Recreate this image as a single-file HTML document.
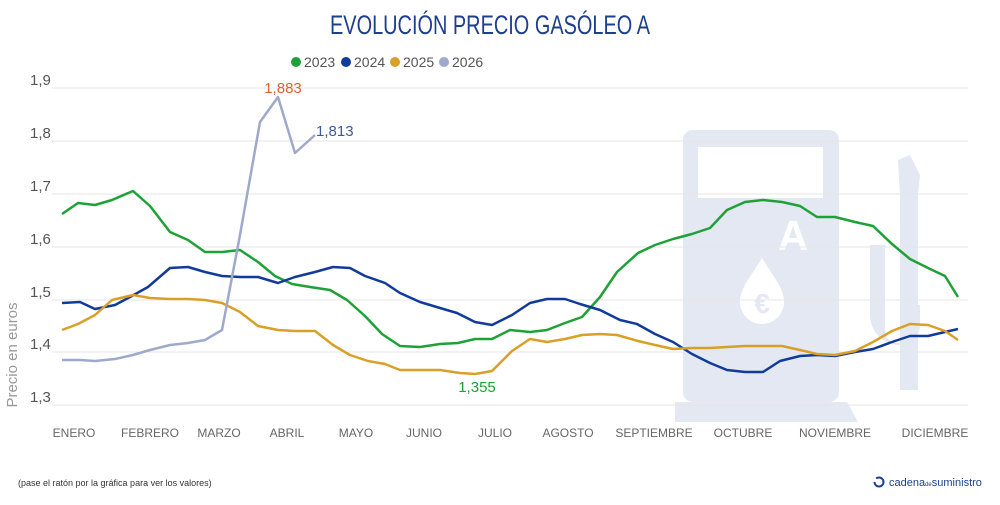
<!DOCTYPE html>
<html><head><meta charset="utf-8"><style>
body{margin:0;background:#fff;width:1000px;height:500px;overflow:hidden;font-family:"Liberation Sans",sans-serif}
</style></head><body>
<svg width="1000" height="500" viewBox="0 0 1000 500" xmlns="http://www.w3.org/2000/svg">
<!-- watermark -->
<g fill="#e3e8f3">
<rect x="683" y="130" width="156" height="272" rx="10"/>
<polygon points="675,402 847,402 858,422 675,422"/>
<rect x="900" y="190" width="18" height="200"/>
<polygon points="898,160 910,155 920,175 918,195 900,195"/>
<path d="M850,245 h20 v70 a30,30 0 0 0 30,30 h0 a20,20 0 0 0 20,-20 v-20 h-5 v20 a18,18 0 0 1 -18,18 a12,12 0 0 1 -12,-12 v-86 z" />
</g>
<rect x="698" y="147" width="125" height="51" fill="#fff"/>
<rect x="720" y="160" width="3" height="0" fill="#fff"/>
<text x="793" y="250" font-size="42" font-weight="bold" fill="#fff" text-anchor="middle" font-family="Liberation Sans">A</text>
<path d="M762,258 C750,278 740,288 740,302 a22,22 0 0 0 44,0 C784,288 774,278 762,258 z" fill="#fff"/>
<text x="762" y="313" font-size="28" font-weight="bold" fill="#e3e8f3" text-anchor="middle">€</text>
<!-- title -->
<text x="490" y="34" font-size="27" fill="#1d3f8f" text-anchor="middle" font-family="Liberation Sans Narrow, Liberation Sans" textLength="320" lengthAdjust="spacingAndGlyphs">EVOLUCIÓN PRECIO GASÓLEO A</text>
<!-- legend -->
<g font-size="14" fill="#555">
<circle cx="296" cy="62" r="5" fill="#1ea136"/><text x="304" y="67">2023</text>
<circle cx="346" cy="62" r="5" fill="#113b9a"/><text x="354" y="67">2024</text>
<circle cx="395" cy="62" r="5" fill="#d8a026"/><text x="403" y="67">2025</text>
<circle cx="444" cy="62" r="5" fill="#9fa9cc"/><text x="452" y="67">2026</text>
</g>
<!-- grid -->
<g stroke="#e6e6e6" stroke-width="1">
<line x1="52" x2="968" y1="88" y2="88"/><line x1="52" x2="968" y1="141" y2="141"/>
<line x1="52" x2="968" y1="194" y2="194"/><line x1="52" x2="968" y1="247" y2="247"/>
<line x1="52" x2="968" y1="300" y2="300"/><line x1="52" x2="968" y1="352" y2="352"/>
<line x1="52" x2="968" y1="405" y2="405"/>
</g>
<g font-size="15" fill="#555">
<text x="30" y="85">1,9</text><text x="30" y="138">1,8</text><text x="30" y="191">1,7</text>
<text x="30" y="244">1,6</text><text x="30" y="297">1,5</text><text x="30" y="349">1,4</text><text x="30" y="402">1,3</text>
</g>
<text transform="translate(17,355) rotate(-90)" font-size="15" fill="#999" text-anchor="middle">Precio en euros</text>
<g font-size="12" fill="#666" text-anchor="middle">
<text x="74" y="437">ENERO</text><text x="150" y="437">FEBRERO</text><text x="219" y="437">MARZO</text>
<text x="287" y="437">ABRIL</text><text x="356" y="437">MAYO</text><text x="424" y="437">JUNIO</text>
<text x="495" y="437">JULIO</text><text x="568" y="437">AGOSTO</text><text x="654" y="437">SEPTIEMBRE</text>
<text x="743" y="437">OCTUBRE</text><text x="835" y="437">NOVIEMBRE</text><text x="935" y="437">DICIEMBRE</text>
</g>
<g fill="none" stroke-width="2.5" stroke-linejoin="round">
<polyline stroke="#1ea136" points="62,214 78,203 95,205 112,200 133,191 150,206 170,232 188,240 205,252 222,252 240,250 258,262 275,276 292,284 310,287 330,290 347,300 365,316 382,334 400,346 420,347 440,344 458,343 475,339 492,339 510,330 530,332 547,330 565,323 582,317 600,297 617,272 638,253 655,245 673,239 692,234 710,228 727,210 745,202 763,200 782,202 800,206 817,217 835,217 855,222 873,226 892,244 910,259 928,268 945,276 958,297"/>
<polyline stroke="#113b9a" points="62,303 80,302 95,309 115,305 130,297 148,287 170,268 188,267 205,272 222,276 240,277 258,277 278,283 295,277 315,272 333,267 350,268 365,276 385,283 400,293 420,302 440,308 457,313 475,322 492,325 512,315 530,303 547,299 565,299 580,304 600,310 620,320 637,324 655,334 673,342 692,354 710,363 727,370 745,372 763,372 780,361 800,356 817,355 835,356 855,352 873,349 892,342 910,336 928,336 945,332 958,329"/>
<polyline stroke="#d8a026" points="62,330 78,324 95,315 112,300 133,295 150,298 170,299 188,299 205,300 222,303 240,312 258,326 278,330 295,331 315,331 333,345 350,355 368,361 385,364 400,370 420,370 440,370 460,373 475,374 492,371 512,351 530,339 547,342 565,339 582,335 600,334 617,335 638,341 655,345 673,349 692,348 710,348 727,347 745,346 763,346 782,346 800,350 817,354 835,355 855,351 873,342 892,331 910,324 928,325 945,331 958,340"/>
<polyline stroke="#9fa9cc" points="62,360 80,360 95,361 115,359 133,355 150,350 170,345 188,343 205,340 222,330 240,235 260,122 278,97 295,153 315,135"/>
</g>
<text x="283" y="93" font-size="15" fill="#d9623a" text-anchor="middle">1,883</text>
<text x="316" y="136" font-size="15" fill="#3d5a99">1,813</text>
<text x="477" y="392" font-size="15" fill="#1ea136" text-anchor="middle">1,355</text>
<text x="18" y="486" font-size="9" fill="#333">(pase el ratón por la gráfica para ver los valores)</text>
<circle cx="879" cy="482" r="4.5" fill="none" stroke="#1d3f8f" stroke-width="2" stroke-dasharray="14 4"/>
<text x="889" y="486" font-size="11" fill="#1d3f8f">cadena<tspan font-size="6">de</tspan>suministro</text>
</svg>
</body></html>
